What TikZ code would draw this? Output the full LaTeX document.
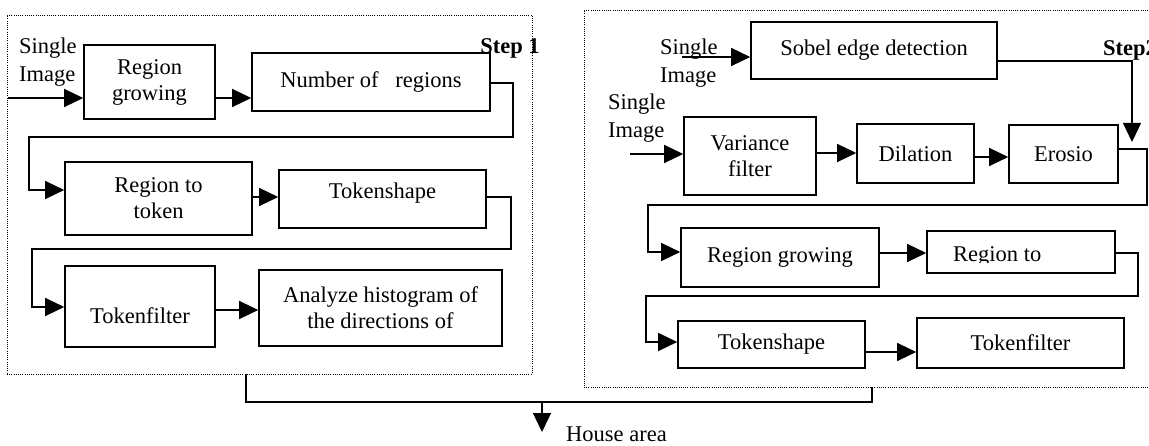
\documentclass[tikz,border=0pt]{standalone}
\usepackage{fontspec}
\setmainfont{Liberation Serif}
\usetikzlibrary{arrows.meta}
\begin{document}
\begin{tikzpicture}[x=1pt,y=-1pt,
  every node/.style={font=\fontsize{22.5}{26}\selectfont},
  box/.style={draw,line width=1.6pt,inner sep=0pt,align=center},
  frame/.style={draw,line width=0.9pt,dash pattern=on 1pt off 1.2pt,inner sep=0pt},
  txt/.style={inner sep=0pt,align=left},
  conn/.style={line width=1.3pt},
  arr/.style={conn,-{Triangle[length=19pt,width=18pt]}}]
\fill[white] (0,0) rectangle (1149,446);
\useasboundingbox (0,0) rectangle (1149,446);

% frames
\node[frame,minimum width=525pt,minimum height=359pt] (f1) at (269.5,194.5) {};
\node[frame,minimum width=571pt,minimum height=377pt] (f2) at (869.5,198.5) {};

% ---------- Step 1 ----------
\node[txt,anchor=west] (si1) at (19,62) {Single\\[2pt]Image};
\node[txt,font=\fontsize{22.5}{26}\selectfont\bfseries] (st1) at (510,48) {Step 1};
\node[box,minimum width=131pt,minimum height=74pt] (rg1) at (149.5,82) {Region\\growing};
\node[box,minimum width=238pt,minimum height=58pt] (nr) at (371,82) {Number of\ \ \ regions};
\node[box,minimum width=187pt,minimum height=73pt] (rt1) at (158.5,198.5) {Region to\\token};
\node[box,minimum width=207pt,minimum height=58pt,text height=10pt,text depth=11.5pt] (ts1) at (382.5,199) {Tokenshape};
\node[box,minimum width=150pt,minimum height=81pt,text height=34.4pt,text depth=0pt] (tf1) at (140,306.5) {Tokenfilter};
\node[box,minimum width=243pt,minimum height=76pt] (an) at (380.5,308) {Analyze histogram of\\the directions of};

\coordinate (in1) at (8,98);
\draw[arr] (in1) -- (in1 -| rg1.west);
\draw[arr] (rg1.east |- in1) -- (nr.west |- in1);
\draw[arr] (nr.east |- 0,83) -| (513,137) -| (29,190) -- (rt1.west |- 0,190);
\draw[arr] (rt1.east |- 0,197) -- (ts1.west |- 0,197);
\draw[arr] (ts1.east |- 0,197) -| (511,249) -| (32,307) -- (tf1.west |- 0,307);
\draw[arr] (tf1.east |- 0,310) -- (an.west |- 0,310);

% ---------- Step 2 ----------
\node[txt,anchor=west] (si2) at (660,63.5) {Single\\[2pt]Image};
\node[txt,anchor=west] (si3) at (608,118) {Single\\[2pt]Image};
\node[txt,anchor=west,font=\fontsize{22.5}{26}\selectfont\bfseries] (st2) at (1103,50) {Step2};
\node[box,minimum width=246pt,minimum height=57pt] (sb) at (874,50.5) {Sobel edge detection};
\node[box,minimum width=132pt,minimum height=78pt] (vf) at (750,156) {Variance\\filter};
\node[box,minimum width=117pt,minimum height=59pt] (dl) at (915.5,153.5) {Dilation};
\node[box,minimum width=109pt,minimum height=58pt] (er) at (1063.5,154) {Erosio};
\node[box,minimum width=198pt,minimum height=59pt] (rg2) at (780,257.5) {Region growing};
\node[box,minimum width=188pt,minimum height=42pt] (rt2) at (1021,252) {};
\begin{scope}
\clip (927,231) rectangle (1115,263);
\node[txt,anchor=base west] (rt2t) at (953,262) {Region to};
\end{scope}
\node[box,minimum width=187pt,minimum height=47pt] (ts2) at (771.5,344.5) {Tokenshape};
\node[box,minimum width=207pt,minimum height=50pt] (tf2) at (1020.5,343) {Tokenfilter};

\coordinate (in2) at (682,57);
\coordinate (in3) at (630,154);
\coordinate (t1) at (1132,142);
\draw[arr] (in2) -- (in2 -| sb.west);
\draw[arr] (sb.east |- 0,61) -| (t1);
\draw[arr] (in3) -- (in3 -| vf.west);
\draw[arr] (vf.east |- 0,153) -- (dl.west |- 0,153);
\draw[arr] (dl.east |- 0,157) -- (er.west |- 0,157);
\draw[arr] (er.east |- 0,149) -| (1147,205) -| (648,252) -- (rg2.west |- 0,252);
\draw[arr] (rg2.east |- 0,253) -- (rt2.west |- 0,253);
\draw[arr] (rt2.east |- 0,253) -| (1138,296) -| (646,342) -- (ts2.west |- 0,342);
\draw[arr] (ts2.east |- 0,352) -- (tf2.west |- 0,352);

% ---------- merge ----------
\node[txt,anchor=west] (ha) at (566,434) {House area};
\coordinate (m1) at (542,402);
\coordinate (t2) at (542,432);
\draw[conn] (f1.south -| 246,0) -- (246,402) -| (f2.south -| 872,0);
\draw[arr] (m1) -- (t2);
\end{tikzpicture}
\end{document}
